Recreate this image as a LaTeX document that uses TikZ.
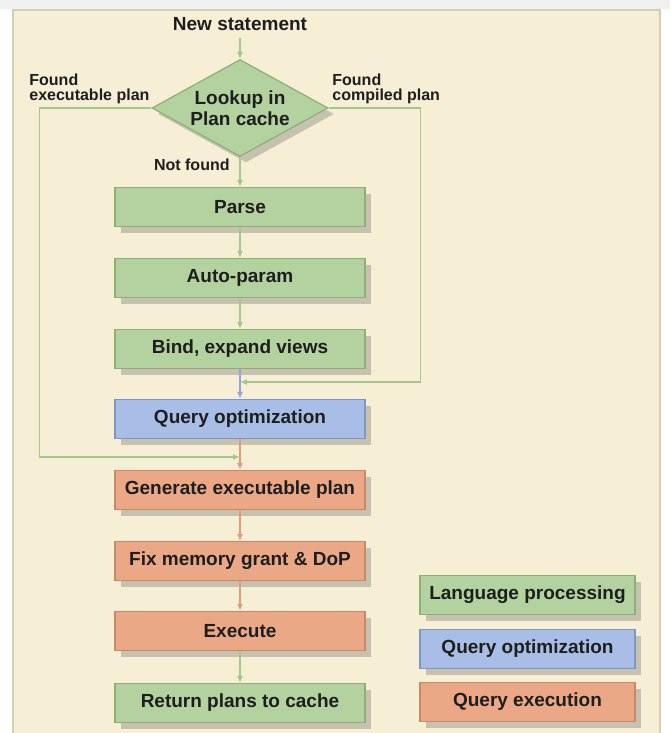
\documentclass[tikz,border=0pt]{standalone}
\usepackage{fontspec}
\setmainfont{Liberation Sans}
\usetikzlibrary{arrows.meta,shapes.geometric,shadows}

\definecolor{cream}{HTML}{F7EED6}
\definecolor{frame}{HTML}{D6CDB8}
\definecolor{shade}{HTML}{C7C1AF}
\definecolor{ink}{HTML}{1E1E1E}
\definecolor{langfill}{HTML}{B3D29F}
\definecolor{langline}{HTML}{8DAE79}
\definecolor{optfill}{HTML}{A8BEE6}
\definecolor{optline}{HTML}{7E96C4}
\definecolor{execfill}{HTML}{EBA887}
\definecolor{execline}{HTML}{C98868}
\definecolor{lline}{HTML}{A3C78E}
\definecolor{oline}{HTML}{8EA6D8}
\definecolor{xline}{HTML}{E39C7A}

\begin{document}
\begin{tikzpicture}[x=0.5pt,y=-0.5pt,
    font=\fontsize{9.5}{10.5}\selectfont\bfseries,text=ink,
    box/.style={rectangle,draw,line width=0.6pt,minimum width=125pt,
                minimum height=19.5pt,inner sep=0pt,
                drop shadow={shadow xshift=3pt,shadow yshift=-3pt,fill=shade,opacity=1}},
    keybox/.style={box,minimum width=107.5pt},
    lang/.style={fill=langfill,draw=langline},
    opt/.style={fill=optfill,draw=optline},
    exec/.style={fill=execfill,draw=execline},
    lbl/.style={font=\fontsize{8}{7.5}\selectfont\bfseries,align=left,inner sep=0pt},
    flow/.style={line width=0.75pt,-{Latex[length=3.5pt,width=3pt]}}]

\useasboundingbox (0,0) rectangle (670,733);
\fill[white] (0,0) rectangle (670,733);
\fill[gray!12] (0,0) rectangle (670,9);
\filldraw[fill=cream,draw=frame,line width=0.8pt] (13,733) -- (13,10) -- (660,10) -- (660,733);

% lookup
\node (stmt) at (240,24) {New statement};
\node[diamond,aspect=1.8,minimum width=88pt,minimum height=48.5pt,inner sep=0pt,
      align=center,lang,line width=0.6pt,
      drop shadow={shadow xshift=3pt,shadow yshift=-3pt,fill=shade,opacity=1}]
      (look) at (240,108) {Lookup in\\Plan cache};
\node[lbl,anchor=south west] (fexe) at (29,104) {Found\\executable plan};
\node[lbl,anchor=south west] (fcomp) at (332,104) {Found\\compiled plan};
\node[lbl,anchor=east] (nf) at (230,165) {Not found};

% steps
\begin{scope}[every node/.style={box}]
    \node[lang] (parse) at (240,207) {Parse};
    \node[lang] (auto) at (240,278) {Auto-param};
    \node[lang] (bind) at (240,349) {Bind, expand views};
    \node[opt] (qopt) at (240,419) {Query optimization};
    \node[exec] (gen) at (240,490) {Generate executable plan};
    \node[exec] (fix) at (240,561) {Fix memory grant \& DoP};
    \node[exec] (run) at (240,631) {Execute};
    \node[lang] (ret) at (240,703) {Return plans to cache};
\end{scope}

% legend
\begin{scope}[every node/.style={keybox}]
    \node[lang] (klang) at (527.5,595) {Language processing};
    \node[opt] (kopt) at (527.5,649) {Query optimization};
    \node[exec] (kexec) at (527.5,702) {Query execution};
\end{scope}

\coordinate (exein) at (240,457);
\coordinate (compin) at (240,382);

\begin{scope}[every edge/.style={draw=lline,flow}]
    \path (stmt) edge (look);
    \path (look) edge (parse);
    \path (parse) edge (auto);
    \path (auto) edge (bind);
    \path (run) edge (ret);
\end{scope}
\begin{scope}[every edge/.style={draw=oline,flow}]
    \path (bind) edge (qopt);
\end{scope}
\begin{scope}[every edge/.style={draw=xline,flow}]
    \path (qopt) edge (gen);
    \path (gen) edge (fix);
    \path (fix) edge (run);
\end{scope}

\draw[flow,lline] (look.west) -- ++(-112,0) |- (exein);
\draw[flow,lline] (look.east) -- ++(92,0) |- (compin);
\end{tikzpicture}
\end{document}
